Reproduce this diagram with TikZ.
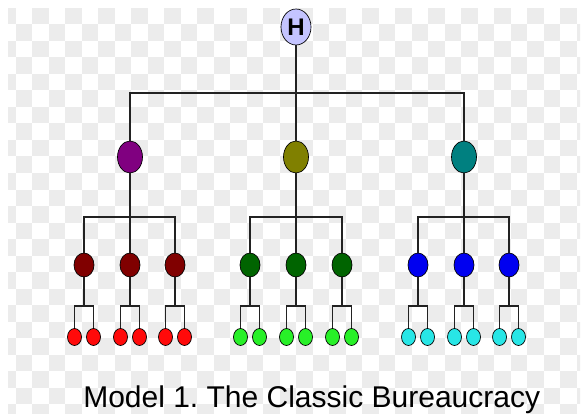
\documentclass[tikz,border=0pt]{standalone}
\usepackage{fontspec}
\setmainfont{Liberation Sans}
\usetikzlibrary{shapes.geometric}
\definecolor{checkgray}{RGB}{236,236,236}
\definecolor{hfill}{RGB}{196,196,255}
\definecolor{cpurple}{RGB}{128,0,128}
\definecolor{colive}{RGB}{128,128,0}
\definecolor{cteal}{RGB}{0,128,128}
\definecolor{cdred}{RGB}{128,0,0}
\definecolor{cred}{RGB}{255,10,10}
\definecolor{cdgreen}{RGB}{0,100,0}
\definecolor{clgreen}{RGB}{40,240,40}
\definecolor{cblue}{RGB}{0,0,240}
\definecolor{ccyan}{RGB}{40,230,230}
\definecolor{linecol}{RGB}{34,34,34}
\tikzset{
  orgnode/.style={ellipse, draw=black, line width=0.5pt, inner sep=0pt},
  headnode/.style={orgnode, fill=hfill, minimum width=22.5pt, minimum height=27pt, font=\fontsize{18}{18}\selectfont\bfseries},
  lvtwo/.style={orgnode, minimum width=18.75pt, minimum height=24pt},
  lvthree/.style={orgnode, minimum width=15pt, minimum height=18pt},
  leafnode/.style={orgnode, minimum width=10.5pt, minimum height=12.75pt},
  link/.style={draw=linecol, line width=1.1pt},
}
\begin{document}
\frenchspacing
\begin{tikzpicture}[x=0.75pt, y=-0.75pt]
\useasboundingbox (0,0) rectangle (585,417);
\fill[white] (0,0) rectangle (585,417);
% checkerboard background
\begin{scope}
\clip (8,8) rectangle (580,413);
\foreach \i in {0,...,35} {
  \foreach \j in {0,...,24} {
    \pgfmathtruncatemacro{\cpar}{mod(\i+\j,2)}
    \ifnum\cpar=0
      \fill[checkgray] ({-1+16.5*\i},{8+16.5*\j}) rectangle ++(16.5,16.5);
    \fi
  }
}
\end{scope}
% top
\node[headnode] (H) at (296,27) {H};
\node[lvtwo, fill=cpurple] (A) at (130,157) {};
\node[lvtwo, fill=colive] (B) at (296,157) {};
\node[lvtwo, fill=cteal] (C) at (464,157) {};
\coordinate (jH) at (296,93);
\draw[link] (H) -- (B);
\draw[link] (A) |- (jH) -| (C);
% groups: name, x1, x2, x3, level3 colour, leaf colour
\foreach \g/\xa/\xb/\xc/\cm/\cl in {A/84/130/175/cdred/cred, B/250/296/342/cdgreen/clgreen, C/418/464/509/cblue/ccyan} {
  \node[lvthree, fill=\cm] (\g1) at (\xa,265) {};
  \node[lvthree, fill=\cm] (\g2) at (\xb,265) {};
  \node[lvthree, fill=\cm] (\g3) at (\xc,265) {};
  \coordinate (j\g) at (\xb,217);
  \draw[link] (\g) -- (\g2);
  \draw[link] (\g1) |- (j\g) -| (\g3);
  \foreach \k/\xx in {1/\xa, 2/\xb, 3/\xc} {
    \node[leafnode, fill=\cl] (\g\k a) at ({\xx-9.5},337) {};
    \node[leafnode, fill=\cl] (\g\k b) at ({\xx+9.5},337) {};
    \coordinate (j\g\k) at (\xx,306);
    \draw[link] (\g\k) -- (j\g\k);
    \draw[link] (\g\k a) |- (j\g\k) -| (\g\k b);
  }
}
\node[anchor=base west, inner sep=0pt, font=\fontsize{22.5}{22.5}\selectfont] (title) at (83,407) {Model 1. The Classic Bureaucracy};
\end{tikzpicture}
\end{document}
